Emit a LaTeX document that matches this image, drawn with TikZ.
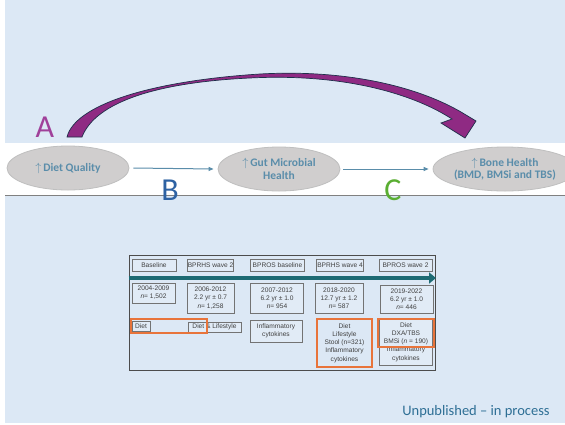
\documentclass[tikz,border=0pt]{standalone}
\usepackage{fontspec}
\setmainfont{Carlito}
\newfontfamily\tlfont{Liberation Sans}
\usetikzlibrary{arrows.meta,shapes.geometric}
\definecolor{bgblue}{HTML}{DCE8F5}
\definecolor{ellfill}{HTML}{D0CECE}
\definecolor{ellline}{HTML}{BFBFBF}
\definecolor{elltext}{HTML}{5A8DAA}
\definecolor{arrpurple}{HTML}{8F2A83}
\definecolor{arredge}{HTML}{1E2F4A}
\definecolor{colA}{HTML}{A0409A}
\definecolor{colB}{HTML}{2E62A3}
\definecolor{colC}{HTML}{5AAE32}
\definecolor{teal}{HTML}{1D6A73}
\definecolor{tltext}{HTML}{404040}
\definecolor{orangebox}{HTML}{E8743B}
\definecolor{notecol}{HTML}{2E6F95}
\begin{document}
\begin{tikzpicture}[x=1pt,y=-1pt,
  ell/.style={ellipse,fill=ellfill,draw=ellline,line width=0.8pt,inner sep=0pt,
    text=elltext,font=\bfseries\fontsize{11.5}{12.5}\selectfont,align=center},
  flow/.style={draw=elltext,line width=1pt,-{Triangle[length=5pt,width=4pt]}},
  letter/.style={font=\fontsize{32}{32}\selectfont,inner sep=0pt},
  tlfnt/.style={text=tltext,font=\tlfont\fontsize{6.6}{8.2}\selectfont,align=center},
  tlbox/.style={draw=gray!90!black,fill=bgblue!85!white,line width=0.6pt,inner sep=0pt,tlfnt},
  obox/.style={draw=orangebox,line width=1.3pt,inner sep=0pt}]
\useasboundingbox (0,0) rectangle (565,424);
% backgrounds
\fill[bgblue] (5,0) rectangle (565,423);
\fill[white] (5,143) rectangle (565,195);
\draw[gray,line width=0.8pt] (5,195.5) -- (565,195.5);
% ellipses
\node[ell,minimum width=122pt,minimum height=44pt] (diet) at (68,168)
  {$\uparrow$\,Diet Quality};
\node[ell,minimum width=122pt,minimum height=44pt] (gut) at (279,169)
  {$\uparrow$\,Gut Microbial\\Health};
\node[ell,minimum width=118pt,minimum height=44pt] (bone) at (505,169)
  {$\uparrow$\,Bone Health\\(BMD, BMSi and TBS)};
\draw[flow] (diet.east) ++(4,0) coordinate (b1) -- ([xshift=-4pt]gut.west);
\draw[flow] (gut.east) ++(3,0) coordinate (c1) -- ([xshift=-4pt]bone.west);
% letters
\node[letter,text=colA] (la) at (45,127) {A};
\node[letter,text=colB] (lb) at (170,190) {B};
\node[letter,text=colC] (lc) at (393,190) {C};
% big curved arrow
\filldraw[fill=arrpurple,draw=arredge,line width=0.7pt,line join=miter]
  (67,137) .. controls (75,105) and (150,81) .. (260,74)
  .. controls (350,69) and (420,88) .. (461,112)
  -- (476,121) -- (465,138) -- (441,123) -- (452,119)
  .. controls (415,95) and (350,75) .. (262,77.5)
  .. controls (155,81) and (95,103) .. (82,137) -- cycle;
% timeline frame
\node[draw=gray!60!black,fill=bgblue,line width=0.7pt,minimum width=306pt,
  minimum height=115pt,inner sep=0pt] (frame) at (282,312.5) {};
% header row
\node[tlbox,minimum width=44pt,minimum height=12pt] (h1) at (154,265) {Baseline};
\node[tlbox,minimum width=46pt,minimum height=12pt] (h2) at (210.5,265) {BPRHS wave 2};
\node[tlbox,minimum width=54pt,minimum height=12pt] (h3) at (277.5,265) {BPROS baseline};
\node[tlbox,minimum width=47pt,minimum height=12pt] (h4) at (340,265) {BPRHS wave 4};
\node[tlbox,minimum width=53pt,minimum height=12pt] (h5) at (405.5,265) {BPROS wave 2};
% teal arrow
\coordinate (t0) at (frame.west |- 0,278);
\coordinate (t1) at (436,278);
\draw[teal,line width=4.5pt,-{Triangle[length=7pt,width=11pt]}] (t0) -- (t1);
% date row
\node[tlbox,minimum width=43pt,minimum height=20pt] (d1) at (153.5,293) {2004-2009\\\textit{n}= 1,502};
\node[tlbox,minimum width=47pt,minimum height=30pt] (d2) at (210.5,298) {2006-2012\\2.2 yr ± 0.7\\\textit{n}= 1,258};
\node[tlbox,minimum width=53pt,minimum height=30pt] (d3) at (277,298) {2007-2012\\6.2 yr ± 1.0\\\textit{n}= 954};
\node[tlbox,minimum width=48pt,minimum height=30pt] (d4) at (339,298) {2018-2020\\12.7 yr ± 1.2\\\textit{n}= 587};
\node[tlbox,minimum width=53pt,minimum height=28pt] (d5) at (406.5,299) {2019-2022\\6.2 yr ± 1.0\\\textit{n}= 446};
% bottom row
\node[tlbox,minimum width=18pt,minimum height=10pt] (e1) at (141,326) {Diet};
\node[tlbox,minimum width=53pt,minimum height=10pt] (e2) at (214.5,327) {Diet \& Lifestyle};
\node[tlbox,minimum width=52pt,minimum height=22pt] (e3) at (276,331) {Inflammatory\\cytokines};
\node[tlbox,minimum width=53pt,minimum height=46pt] (e5) at (406,342) {Diet\\DXA/TBS\\BMSi (\textit{n} = 190)\\Inflammatory\\cytokines};
\node[obox,tlfnt,minimum width=55pt,minimum height=48pt] (e4) at (344.5,343)
  {Diet\\Lifestyle\\Stool (n=321)\\Inflammatory\\cytokines};
\node[obox,minimum width=76pt,minimum height=14pt] (o1) at (169,326) {};
\node[obox,minimum width=56pt,minimum height=28pt] (o5) at (406,333) {};
% note
\node[text=notecol,font=\fontsize{14.5}{15}\selectfont,inner sep=0pt] (note) at (476,412)
  {Unpublished – in process};
\end{tikzpicture}
\end{document}
